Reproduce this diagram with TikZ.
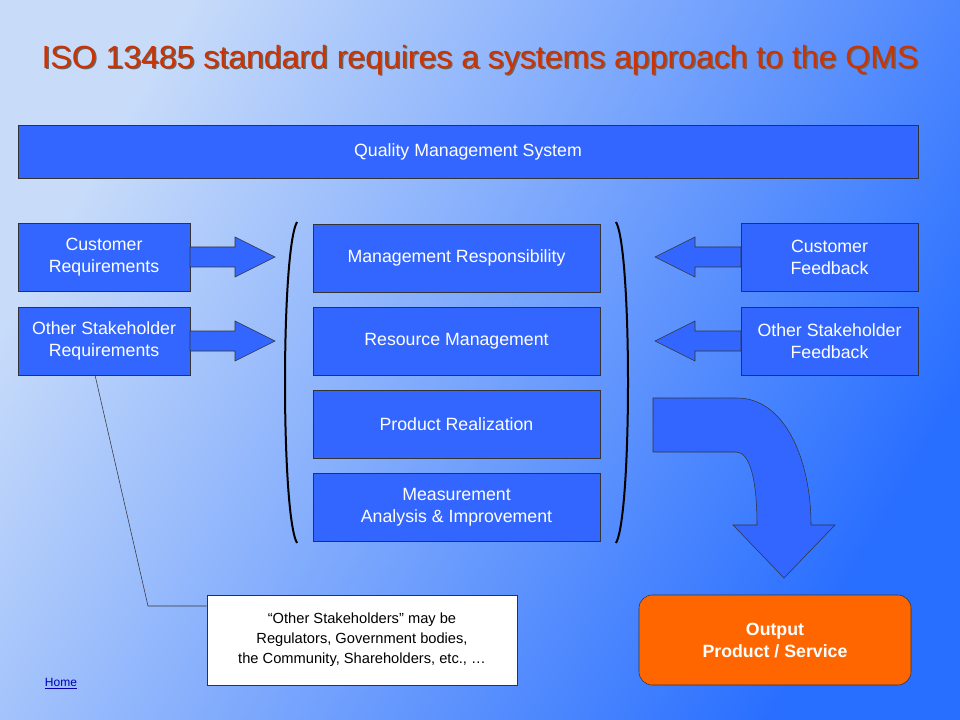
\documentclass[tikz,border=0pt]{standalone}
\usepackage{fontspec}
\setmainfont{Liberation Sans}
\begin{document}
\begin{tikzpicture}[x=0.75pt,y=-0.75pt,
  box/.style={draw=black!80,thin,fill=boxblue,text=white,align=center,font=\fontsize{13.3}{16.5}\selectfont,inner sep=0pt},
  arr/.style={draw=black!80,thin,fill=boxblue}]
\definecolor{boxblue}{HTML}{3366FF}
\definecolor{titlered}{HTML}{CC3300}
\useasboundingbox (0,0) rectangle (960,720);
\shade[left color={rgb,255:red,200;green,220;blue,250},right color={rgb,255:red,40;green,110;blue,255},shading angle=60] (0,0) rectangle (960,720);
\node[text=black!60] (ts) at (481.5,61.5) {\fontsize{24}{28}\selectfont ISO 13485 standard requires a systems approach to the QMS};
\node[text=titlered] (t) at (480,60) {\fontsize{24}{28}\selectfont ISO 13485 standard requires a systems approach to the QMS};
\node[box,minimum width=900*0.75pt,minimum height=53*0.75pt] (qms) at (468,151.5) {Quality Management System};
\node[box,minimum width=172*0.75pt,minimum height=68*0.75pt] (cr) at (104,257) {Customer\\Requirements};
\node[box,minimum width=172*0.75pt,minimum height=68*0.75pt] (osr) at (104,341) {Other Stakeholder\\Requirements};
\node[box,minimum width=177*0.75pt,minimum height=68*0.75pt] (cf) at (829.5,257) {Customer\\Feedback};
\node[box,minimum width=177*0.75pt,minimum height=68*0.75pt] (osf) at (829.5,341) {Other Stakeholder\\Feedback};
\foreach \n/\y/\t in {mr/258/Management Responsibility,rm/341/Resource Management,pr/424/Product Realization,ma/507/{Measurement\\Analysis \& Improvement}}
  \node[box,minimum width=287*0.75pt,minimum height=68*0.75pt] (\n) at (456.5,\y) {\t};
\foreach \y in {257,341}{
 \draw[arr] (190,\y-10) -- (235,\y-10) -- (235,\y-20) -- (275,\y) -- (235,\y+20) -- (235,\y+10) -- (190,\y+10) -- cycle;
 \draw[arr] (741,\y-10) -- (695,\y-10) -- (695,\y-20) -- (655,\y) -- (695,\y+20) -- (695,\y+10) -- (741,\y+10) -- cycle;}
\draw[line width=1.5pt] (297,222) .. controls (281,250) and (281,515) .. (297,543);
\draw[line width=1.5pt] (616,222) .. controls (632,250) and (632,515) .. (616,543);
\draw[arr] (653,398) -- (737,398) .. controls (785,398) and (811,460) .. (811,525) -- (835,525) -- (784,578) -- (733,525) -- (757,525) .. controls (757,480) and (750,452) .. (736,452) -- (653,452) -- cycle;
\node[draw=black!80,fill={rgb,255:red,255;green,102;blue,0},rounded corners=10pt,minimum width=272*0.75pt,minimum height=90*0.75pt,text=white,align=center,font=\bfseries\fontsize{13.3}{16.5}\selectfont] (out) at (775,640) {Output\\Product / Service};
\node[draw=black!80,fill=white,minimum width=310*0.75pt,minimum height=90*0.75pt,align=center,font=\fontsize{11}{15}\selectfont] (note) at (362,640) {``Other Stakeholders'' may be\\Regulators, Government bodies,\\the Community, Shareholders, etc., \dots};
\coordinate (bend) at (148,606);
\draw[black!80] (95,375) -- (bend) -- (note.west |- bend);
\node[text=blue!70!black,font=\fontsize{9}{10}\selectfont] (home) at (61,684) {\underline{Home}};
\end{tikzpicture}
\end{document}
